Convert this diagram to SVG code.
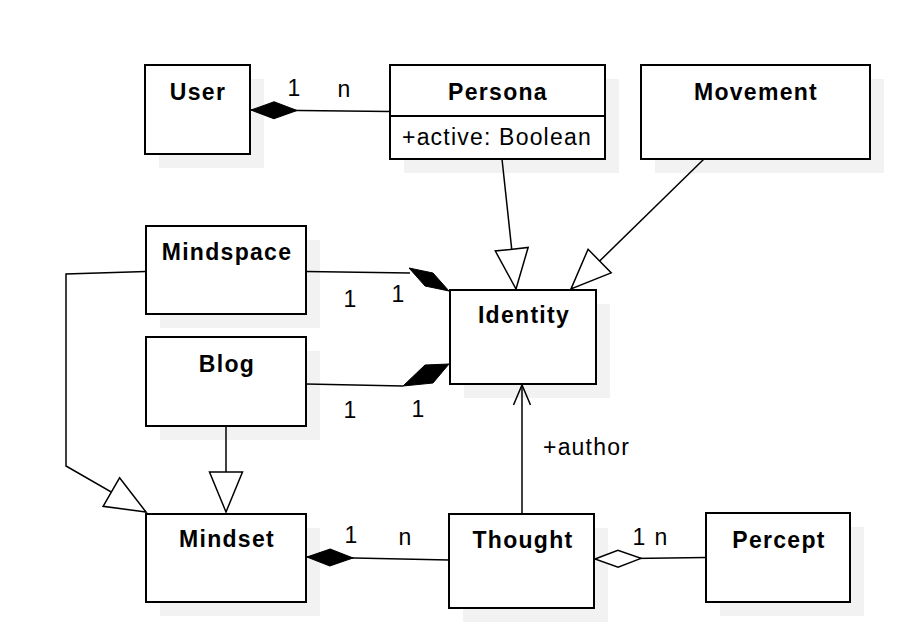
<svg xmlns="http://www.w3.org/2000/svg" width="904" height="642" viewBox="0 0 904 642">
<defs>
<style>
.shadow{fill:#f2f2f2;stroke:none}
.box{fill:#ffffff;stroke:#000000;stroke-width:2}
.title{font-family:"Liberation Sans",Arial,Helvetica,sans-serif;font-size:23px;font-weight:bold;letter-spacing:1.3px;text-anchor:middle;fill:#000}
.attr{font-family:"Liberation Sans",Arial,Helvetica,sans-serif;font-size:23px;letter-spacing:1.2px;fill:#000}
.lbl{font-family:"Liberation Sans",Arial,Helvetica,sans-serif;font-size:23px;text-anchor:middle;fill:#000}
.edge{fill:none;stroke:#000000;stroke-width:1.5}
.solid{fill:#000000;stroke:#000000;stroke-width:1}
</style>
<marker id="gen" markerUnits="userSpaceOnUse" markerWidth="44" markerHeight="37" refX="40" refY="16.5" orient="auto" overflow="visible">
<path d="M0,0 L40,16.5 L0,33 Z" fill="#ffffff" stroke="#000000" stroke-width="1.5"/>
</marker>
<marker id="comp" markerUnits="userSpaceOnUse" markerWidth="48" markerHeight="19" refX="0" refY="8.5" orient="auto" overflow="visible">
<path d="M0,8.5 L23,0 L46,8.5 L23,17 Z" fill="#000000" stroke="#000000" stroke-width="1"/>
</marker>
<marker id="aggr" markerUnits="userSpaceOnUse" markerWidth="48" markerHeight="19" refX="0" refY="8.5" orient="auto" overflow="visible">
<path d="M0,8.5 L23,0 L46,8.5 L23,17 Z" fill="#ffffff" stroke="#000000" stroke-width="1.5"/>
</marker>
<marker id="open" markerUnits="userSpaceOnUse" markerWidth="22" markerHeight="20" refX="0" refY="0" orient="auto" overflow="visible">
<path d="M-20,-8.5 L0,0 L-20,8.5" fill="none" stroke="#000000" stroke-width="1.5"/>
</marker>
</defs>
<rect x="0" y="0" width="904" height="642" fill="#ffffff"/>

<g id="User">
<rect class="shadow" x="159" y="79" width="105" height="89"/>
<rect class="box" x="145" y="65" width="105" height="89"/>
<text class="title" x="198" y="100">User</text>
</g>
<g id="Persona">
<rect class="shadow" x="404" y="79" width="215" height="94"/>
<rect class="box" x="390" y="65" width="215" height="94"/>
<line x1="390" y1="116" x2="605" y2="116" stroke="#000" stroke-width="2"/>
<text class="title" x="498" y="100">Persona</text>
<text class="attr" x="402" y="145">+active: Boolean</text>
</g>
<g id="Movement">
<rect class="shadow" x="655" y="79" width="229" height="94"/>
<rect class="box" x="641" y="65" width="229" height="94"/>
<text class="title" x="756" y="100">Movement</text>
</g>
<g id="Mindspace">
<rect class="shadow" x="160" y="240" width="160" height="88"/>
<rect class="box" x="146" y="226" width="160" height="88"/>
<text class="title" x="227" y="260">Mindspace</text>
</g>
<g id="Blog">
<rect class="shadow" x="160" y="351" width="160" height="89"/>
<rect class="box" x="146" y="337" width="160" height="89"/>
<text class="title" x="227" y="372">Blog</text>
</g>
<g id="Identity">
<rect class="shadow" x="464" y="304" width="146" height="94"/>
<rect class="box" x="450" y="290" width="146" height="94"/>
<text class="title" x="524" y="323">Identity</text>
</g>
<g id="Mindset">
<rect class="shadow" x="160" y="528" width="160" height="88"/>
<rect class="box" x="146" y="514" width="160" height="88"/>
<text class="title" x="227" y="547">Mindset</text>
</g>
<g id="Thought">
<rect class="shadow" x="463" y="528" width="145" height="94"/>
<rect class="box" x="449" y="514" width="145" height="94"/>
<text class="title" x="523" y="548">Thought</text>
</g>
<g id="Percept">
<rect class="shadow" x="720" y="527" width="144" height="89"/>
<rect class="box" x="706" y="513" width="144" height="89"/>
<text class="title" x="779" y="548">Percept</text>
</g>

<g id="connectors">
<path class="edge" d="M251,110 L390,111.5" marker-start="url(#comp)"/>
<text class="lbl" x="294" y="96">1</text>
<text class="lbl" x="344" y="97">n</text>

<path class="edge" d="M502,159 L516,289" marker-end="url(#gen)"/>
<path class="edge" d="M704,159 L571,289" marker-end="url(#gen)"/>

<path class="edge" d="M306,271.5 L410,273"/>
<polygon class="solid" points="409,268 433,273 449,291 425,286"/>
<text class="lbl" x="350" y="307">1</text>
<text class="lbl" x="398" y="302">1</text>

<path class="edge" d="M306,384 L403,386"/>
<polygon class="solid" points="403,386 425,365 449,364 433,383"/>
<text class="lbl" x="350" y="418">1</text>
<text class="lbl" x="418" y="417">1</text>

<path class="edge" d="M522,514 L522,385" marker-end="url(#open)"/>
<text class="attr" x="543" y="455">+author</text>

<path class="edge" d="M307,557 L449,560" marker-start="url(#comp)"/>
<text class="lbl" x="351" y="543">1</text>
<text class="lbl" x="405" y="545">n</text>

<path class="edge" d="M595,559 L706,557.5" marker-start="url(#aggr)"/>
<text class="lbl" x="639" y="545">1</text>
<text class="lbl" x="661" y="545">n</text>

<path class="edge" d="M146,271.5 L66,274 L66,466 L146,512" marker-end="url(#gen)"/>
<path class="edge" d="M226,426 L226,512" marker-end="url(#gen)"/>
</g>
</svg>
